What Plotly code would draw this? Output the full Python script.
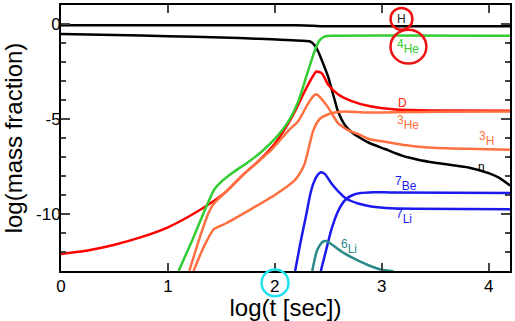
import plotly.graph_objects as go

# ---- data (log t [sec], log mass fraction) ----
h_x = [0, 2.2, 2.35, 2.45, 2.6, 4.2]
h_y = [-0.06, -0.07, -0.09, -0.12, -0.12, -0.12]

n_x = [0, 0.5, 1.0, 1.5, 1.85, 2.1, 2.25, 2.33, 2.37, 2.41, 2.46, 2.5, 2.53, 2.56, 2.59, 2.66,
       2.72, 2.8, 2.88, 3.03, 3.19, 3.34, 3.5, 3.65, 3.81, 4.0, 4.1, 4.2]
n_y = [-0.52, -0.58, -0.64, -0.71, -0.78, -0.84, -0.88, -0.92, -1.1, -1.5, -2.2, -2.8, -3.4, -4.0,
       -4.58, -5.36, -5.7, -6.0, -6.25, -6.58, -6.93, -7.14, -7.3, -7.42, -7.55, -7.85, -8.1, -8.5]

he4_x = [1.10, 1.23, 1.33, 1.43, 1.5, 1.57, 1.65, 1.73, 1.87, 2.0, 2.13, 2.22, 2.3, 2.37, 2.42,
         2.47, 2.55, 4.2]
he4_y = [-13, -11.35, -10.0, -8.75, -8.3, -7.97, -7.65, -7.35, -6.75, -6.05, -5.1, -4.06, -2.67,
         -1.46, -0.85, -0.65, -0.62, -0.62]

d_x = [0, 0.25, 0.5, 0.75, 1.0, 1.2, 1.38, 1.54, 1.7, 1.85, 2.0, 2.16, 2.28, 2.34, 2.39, 2.44,
       2.5, 2.59, 2.72, 2.88, 3.13, 3.5, 4.2]
d_y = [-12.1, -11.92, -11.62, -11.22, -10.7, -10.12, -9.5, -8.85, -7.95, -7.2, -6.3, -4.9, -3.54,
       -2.9, -2.5, -2.6, -3.2, -3.7, -4.06, -4.32, -4.5, -4.55, -4.57]

h3_x = [1.2, 1.3, 1.38, 1.43, 1.54, 1.73, 1.96, 2.13, 2.22, 2.31, 2.36, 2.39, 2.43, 2.5, 2.59,
        2.69, 2.78, 2.88, 3.03, 3.19, 3.44, 3.8, 4.2]
h3_y = [-13, -11.2, -9.95, -9.45, -8.85, -7.8, -6.67, -5.6, -5.1, -4.2, -3.8, -3.7, -3.9, -4.4,
        -5.2, -5.6, -5.8, -6.05, -6.2, -6.35, -6.5, -6.57, -6.62]

he3_x = [1.24, 1.33, 1.43, 1.54, 1.79, 2.0, 2.19, 2.25, 2.28, 2.31, 2.36, 2.42, 2.5, 2.59, 2.66,
         2.88, 3.5, 4.2]
he3_y = [-13, -11.8, -10.8, -10.5, -9.7, -9.0, -8.2, -7.7, -7.35, -6.7, -5.6, -5.0, -4.75, -4.63,
         -4.6, -4.66, -4.62, -4.6]

li7_x = [2.19, 2.24, 2.29, 2.33, 2.36, 2.4, 2.43, 2.47, 2.53, 2.6, 2.67, 2.78, 2.9, 3.04, 3.3, 4.2]
li7_y = [-13, -11.5, -10.15, -9.0, -8.4, -7.95, -7.8, -7.9, -8.4, -8.85, -9.2, -9.45, -9.6, -9.68,
         -9.72, -9.75]

be7_x = [2.43, 2.48, 2.53, 2.58, 2.62, 2.67, 2.73, 2.8, 2.92, 3.1, 4.2]
be7_y = [-13, -11.9, -10.8, -10.0, -9.55, -9.2, -9.0, -8.9, -8.85, -8.87, -8.9]

li6_x = [2.35, 2.39, 2.42, 2.45, 2.48, 2.52, 2.58, 2.66, 2.78, 2.9, 2.99, 3.08, 3.12]
li6_y = [-13, -12.0, -11.65, -11.45, -11.42, -11.55, -11.8, -12.1, -12.45, -12.75, -12.92, -13.0,
         -13.05]

labels = [
    ("H", 3.187, 0.26, "#222222"),
    ("4", 3.25, -1.2, "#33cc33", "He"),
    ("D", 3.19, -4.17, "#ff2200"),
    ("3", 3.25, -5.2, "#ff7040", "He"),
    ("3", 3.98, -6.05, "#ff7040", "H"),
    ("n", 3.93, -7.55, "#000000"),
    ("7", 3.23, -8.4, "#1a1aee", "Be"),
    ("7", 3.21, -10.15, "#1a1aee", "Li"),
    ("6", 2.69, -11.7, "#2a8a8a", "Li"),
]

series = [
    (h_x, h_y, "#000000"),
    (n_x, n_y, "#000000"),
    (d_x, d_y, "#ff0000"),
    (h3_x, h3_y, "#ff7040"),
    (he3_x, he3_y, "#ff7040"),
    (he4_x, he4_y, "#33cc33"),
    (li7_x, li7_y, "#1a1aee"),
    (be7_x, be7_y, "#1a1aee"),
    (li6_x, li6_y, "#2a8a8a"),
]

FONT = "Liberation Sans, Arial, Helvetica, sans-serif"

fig = go.Figure()
for xs, ys, c in series:
    fig.add_trace(go.Scatter(x=xs, y=ys, mode="lines",
                             line=dict(color=c, width=2.5, shape="spline", smoothing=0.6),
                             showlegend=False, hoverinfo="skip"))

for lab in labels:
    if len(lab) == 5:
        num, x, y, c, el = lab
        txt = "<sup><span style='font-size:12px'>%s</span></sup>%s" % (num, el)
    else:
        txt, x, y, c = lab
    fig.add_annotation(x=x, y=y, xref="x", yref="y", text=txt, showarrow=False,
                       font=dict(family=FONT, size=12, color=c))

# highlight circles (paper coordinates)
L, R, T, B = 61, 512, 3, 271
def px2paper(px, py):
    return (px - L) / (R - L), (B - py) / (B - T)

circles = [((403, 17), 11, 11, "#ee1111"), ((410, 45), 18, 17, "#ee1111"),
           ((276, 283), 13.5, 13.5, "#22e0ee")]
for (cx, cy), rx, ry, col in circles:
    x0, y0 = px2paper(cx - rx, cy + ry)
    x1, y1 = px2paper(cx + rx, cy - ry)
    fig.add_shape(type="circle", xref="paper", yref="paper", x0=x0, y0=y0, x1=x1, y1=y1,
                  line=dict(color=col, width=2.5))

fig.update_layout(
    width=515, height=321,
    margin=dict(l=61, r=3, t=3, b=50),
    paper_bgcolor="white", plot_bgcolor="white",
    font=dict(family=FONT, color="black"),
    xaxis=dict(range=[0, 4.2], tick0=0, dtick=1, ticks="inside", ticklen=8, tickwidth=2,
               showline=True, linewidth=2, linecolor="black", mirror="ticks", showgrid=False,
               zeroline=False, tickfont=dict(size=17), ticklabelstandoff=-1,
               title=dict(text="log(t [sec])", font=dict(size=24), standoff=1)),
    yaxis=dict(range=[-13, 1], tickvals=[0, -5, -10], ticktext=["0", "-5", "-10"],
               ticks="inside", ticklen=9, tickwidth=2,
               minor=dict(dtick=1, tick0=0, ticks="inside", ticklen=5, tickwidth=1.5,
                          showgrid=False),
               showline=True, linewidth=2, linecolor="black", mirror="ticks", showgrid=False,
               zeroline=False, tickfont=dict(size=17), ticklabelstandoff=-5,
               title=dict(text="log(mass fraction)", font=dict(size=24), standoff=9)),
)

fig.write_html("out.html")
